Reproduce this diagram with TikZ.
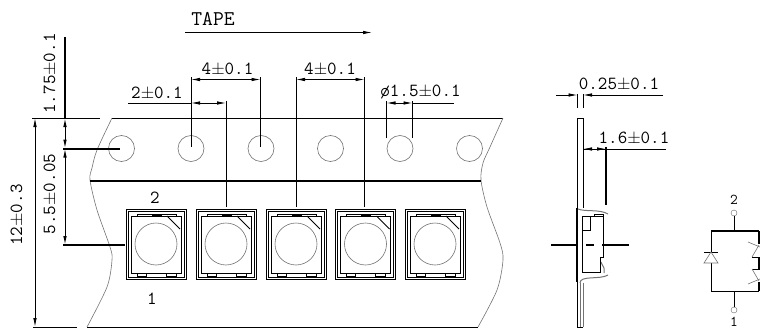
\documentclass[tikz,border=0pt]{standalone}
\usetikzlibrary{arrows.meta}
\tikzset{
  dimlabel/.style={inner sep=0pt,font=\ttfamily\fontsize{18.5}{18.5}\selectfont},
  tapelabel/.style={inner sep=0pt,font=\ttfamily\fontsize{21}{21}\selectfont},
  smalllabel/.style={inner sep=0pt,font=\ttfamily\fontsize{15}{15}\selectfont},
  thinline/.style={line width=0.8pt,black},
  thickline/.style={line width=2pt,black},
  grayline/.style={line width=0.6pt,black!55},
  dimarrow/.style={line width=0.8pt,{Latex[length=9pt,width=3.5pt]}-{Latex[length=9pt,width=3.5pt]}},
  endarrow/.style={line width=0.8pt,-{Latex[length=9pt,width=3.5pt]}},
}
\begin{document}
\begin{tikzpicture}[x=1pt,y=-1pt]
  \useasboundingbox (0,0) rectangle (760,329);
  %tape outline
  \draw[thinline] (112,118) -- (503,118);
  \draw[thinline] (87,327) -- (478,327);
  \draw[grayline] plot[smooth] coordinates {(112,118) (97,150) (92,168) (90,180) (97,210) (110,247) (112,260) (107,287) (87,327)};
  \draw[grayline] plot[smooth] coordinates {(503,118) (490,147) (483,163) (481,180) (487,207) (500,243) (503,260) (497,290) (478,327)};
  \draw[thickline] (90,181) -- (481,181);
  %holes
  \foreach \x in {121.5,191,261,330.5,400,469.5}
    \draw[grayline] (\x,148.5) circle (13);
  %parts on the tape
  \foreach \x in {126,196,266,335.5,405}
  {
    \draw[line width=1pt] (\x,209) rectangle +(60,70);
    \draw[thinline] (\x+2,211) rectangle +(56,66);
    \draw[line width=1pt] (\x+5,216) rectangle +(50,57);
    \draw[thinline] (\x+11,214) rectangle +(39,2);
    \draw[thinline,fill=black] (\x+26,214) rectangle +(9,2);
    \draw[thinline] (\x+11,273) rectangle +(9,3);
    \draw[thinline] (\x+40,273) rectangle +(10,3);
    \draw[thinline] (\x+41,216) -- (\x+54,229);
    \draw[grayline] (\x+30,244) circle (21);
  }
  \node[dimlabel] (pintwo) at (155,198) {2};
  \node[dimlabel] (pinone) at (152,299) {1};
  %tape direction
  \node[tapelabel] (tape) at (213,19) {TAPE};
  \coordinate (tapea) at (185,32.5);
  \coordinate (tapeb) at (372,32.5);
  \draw[endarrow] (tapea) -- (tapeb);
  %left dimensions
  \draw[thinline] (32,118) -- (100,118);
  \draw[thinline] (33,327) -- (77,327);
  \coordinate (heighta) at (35,118);
  \coordinate (heightb) at (35,327);
  \draw[dimarrow] (heighta) -- (heightb);
  \node[dimlabel,rotate=90] (height) at (17,215) {12$\pm$0.3};
  \draw[thickline] (65,37) -- (65,118);
  \coordinate (edgea) at (65,118);
  \coordinate (edgeb) at (65,148.5);
  \coordinate (edgec) at (65,245);
  \draw[dimarrow,line width=1pt] (edgea) -- (edgeb);
  \draw[dimarrow,line width=1pt] (edgeb) -- (edgec);
  \draw[thickline] (63,148.7) -- (120,148.7);
  \draw[thickline] (63,245) -- (125,245);
  \node[dimlabel,rotate=90] (edgedim) at (50,73.5) {1.75$\pm$0.1};
  \node[dimlabel,rotate=90] (centredim) at (50,194) {5.5$\pm$0.05};
  %top dimensions
  \foreach \x/\ya/\yb in {191/77/147,226/101/207,260.5/77/147,296/77/207,364.5/77/207,386.5/101/138,412.5/101/138}
    \draw[thinline] (\x,\ya) -- (\x,\yb);
  \draw[dimarrow] (191,79.5) -- (260.5,79.5);
  \draw[dimarrow] (296,79.5) -- (364.5,79.5);
  \draw[thinline] (128,103) -- (191,103);
  \draw[dimarrow] (191,103) -- (226,103);
  \draw[dimarrow] (386.5,103) -- (412.5,103);
  \draw[thinline] (412.5,103) -- (454,103);
  \node[dimlabel] (pitcha) at (227.5,69) {4$\pm$0.1};
  \node[dimlabel] (pitchb) at (330,69) {4$\pm$0.1};
  \node[dimlabel] (halfpitch) at (157,93) {2$\pm$0.1};
  \node[dimlabel] (holedim) at (420.5,92) {\o 1.5$\pm$0.1};
  %side view
  \draw[thinline] (577.5,208) -- (577.5,118) -- (583,118) -- (583,208);
  \draw[thickline] (577,208) -- (577,282);
  \draw[line width=1pt] (577,327) -- (583,327);
  \draw[line width=1pt] (577,282) -- (577,327);
  \draw[grayline,line width=1pt] (583,283) -- (583,327);
  \draw[grayline,line width=1pt] (580,283) -- (580,327);
  \draw[grayline,line width=1pt] (578,209) .. controls (585,212) and (600,209) .. (608,214);
  \draw[grayline,line width=1pt] (601,262) .. controls (603,268) and (605,266) .. (604,273);
  \draw[grayline,line width=1pt] (580,283) .. controls (580,275) and (600,280) .. (608,275);
  \draw[line width=1pt] (582,216) -- (603,216) -- (603,257) -- (600,257) -- (600,272) -- (582,272) -- cycle;
  \draw[thinline] (582,216) rectangle (590,230);
  \draw[thinline] (594,214) rectangle (603,216);
  \draw[thickline] (606,147) -- (606,205);
  \draw[thickline] (551,245) -- (577,245);
  \draw[thickline] (586,245) -- (594,245);
  \draw[thickline] (602,245) -- (629,245);
  %side dimensions
  \draw[thinline] (577.5,94) -- (577.5,108);
  \draw[thinline] (583,94) -- (583,108);
  \draw[endarrow] (556,95) -- (577.5,95);
  \draw[endarrow] (663,95) -- (583,95);
  \node[dimlabel] (thickdim) at (619,84) {0.25$\pm$0.1};
  \draw[endarrow] (606,149) -- (583,149);
  \draw[endarrow] (583,149) -- (606,149);
  \draw[thinline] (606,149) -- (666,149);
  \node[dimlabel] (depthdim) at (634,138) {1.6$\pm$0.1};
  %circuit
  \node[draw=black!60,circle,inner sep=0pt,minimum size=6pt] (termtwo) at (734,213) {};
  \node[draw=black!60,circle,inner sep=0pt,minimum size=6pt] (termone) at (734,310) {};
  \node[smalllabel] (labeltwo) at (734,200) {2};
  \node[smalllabel] (labelone) at (734,322) {1};
  \coordinate (topnode) at (734,231);
  \coordinate (botnode) at (734,291);
  \draw[thinline] (termtwo) -- (topnode);
  \draw[thinline] (termone) -- (botnode);
  \draw[thickline] (711,231) -- (759,231);
  \draw[thinline] (711,231) -- (711,252);
  \draw[thinline] (711,263) -- (711,291) -- (759,291);
  \draw[thinline] (704,252) -- (718,252);
  \draw[grayline] (711,252) -- (704,263) -- (718,263) -- cycle;
  \draw[thickline] (758.5,231) -- (758.5,244);
  \draw[thickline] (758.5,257) -- (758.5,270);
  \draw[thickline] (758.5,282) -- (758.5,291);
  \draw[thinline] (752,257) -- (760,257);
  \draw[thinline] (752,269) -- (760,269);
  \draw[grayline] (752,257) -- (759,245);
  \draw[grayline] (752,269) -- (759,281);
  \draw[grayline] (748,242) -- (760,247);
  \draw[grayline] (748,284) -- (760,279);
\end{tikzpicture}
\end{document}
